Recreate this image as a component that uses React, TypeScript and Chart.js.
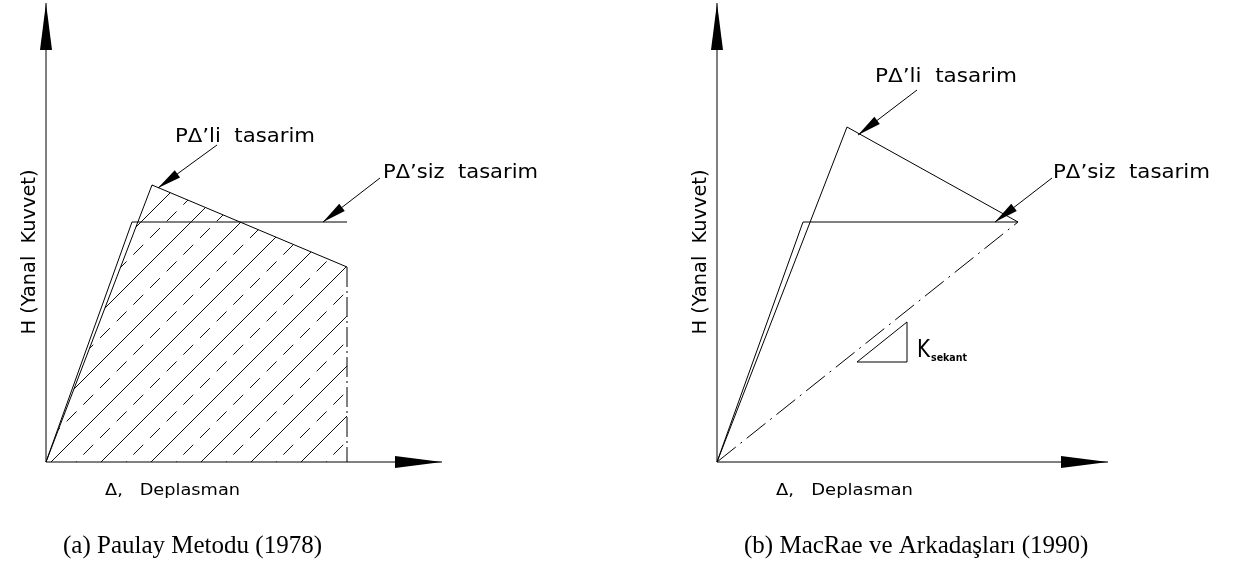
import React, { useEffect, useRef } from "react";
import { Chart, registerables } from "chart.js";

Chart.register(...registerables);

// Schematic units: Δ (displacement) horizontally, H (lateral force) vertically.

// (a) Paulay method (1978)
const paulaySizDelta = [0, 21.5, 75.25];
const paulaySizH = [0, 60, 60];
const paulayLiDelta = [0, 26.5, 75.25];
const paulayLiH = [0, 69.25, 48.75];
const paulayLimitDelta = [75.25, 75.25];
const paulayLimitH = [48.75, 0];
const paulayAxisDeltaEnd = 99;
const paulayAxisHEnd = 114.75;
const paulayLiLeaderDelta = [42.75, 28];
const paulayLiLeaderH = [79.25, 68.5];
const paulaySizLeaderDelta = [83.5, 69.25];
const paulaySizLeaderH = [71, 60];

// (b) MacRae et al. (1990)
const macraeLiDelta = [0, 32.5, 75.25];
const macraeLiH = [0, 83.75, 60];
const macraeSizDelta = [0, 21.5, 75.25];
const macraeSizH = [0, 60, 60];
const macraeSecantDelta = [0, 75.25];
const macraeSecantH = [0, 60];
const stiffnessTriDelta = [35, 47.5, 47.5, 35];
const stiffnessTriH = [25, 25, 35, 25];
const macraeAxisDeltaEnd = 97.75;
const macraeAxisHEnd = 114.75;
const macraeLiLeaderDelta = [50, 35.25];
const macraeLiLeaderH = [93, 81.75];
const macraeSizLeaderDelta = [83.75, 69.5];
const macraeSizLeaderH = [71, 60];

// Texts
const LABEL_LI = "P\u0394\u2019li  tasarim";
const LABEL_SIZ = "P\u0394\u2019siz  tasarim";
const LABEL_Y = "H (Yanal  Kuvvet)";
const LABEL_X = "\u0394,   Deplasman";
const CAPTION_A = "(a) Paulay Metodu (1978)";
const CAPTION_B = "(b) MacRae ve Arkada\u015Flar\u0131 (1990)";

const CAD_FONT = '"DejaVu Sans", "Noto Sans", sans-serif';
const SERIF_FONT = '"Liberation Serif", "Times New Roman", serif';

const pts = (xs: number[], ys: number[]) => xs.map((x, i) => ({ x, y: ys[i] }));

const line = (xs: number[], ys: number[], extra: any = {}) => ({
  data: pts(xs, ys),
  showLine: true,
  pointRadius: 0,
  borderColor: "#000",
  borderWidth: 1,
  backgroundColor: "transparent",
  fill: false,
  tension: 0,
  clip: false,
  ...extra,
});

const AXIS_HEAD = { len: 47, half: 6 };
const LEADER_HEAD = { len: 24, half: 4.5 };

// Draws arrowheads at the end of flagged datasets plus the text notes
const notesPlugin = {
  id: "notes",
  afterDatasetsDraw(chart: any, _args: any, opts: any) {
    const { ctx } = chart;
    const sx = chart.scales.x;
    const sy = chart.scales.y;
    ctx.save();
    chart.data.datasets.forEach((ds: any) => {
      if (!ds.arrowHead) return;
      const d = ds.data;
      const n = d.length;
      const x1 = sx.getPixelForValue(d[n - 2].x);
      const y1 = sy.getPixelForValue(d[n - 2].y);
      const x2 = sx.getPixelForValue(d[n - 1].x);
      const y2 = sy.getPixelForValue(d[n - 1].y);
      const ang = Math.atan2(y2 - y1, x2 - x1);
      ctx.save();
      ctx.translate(x2, y2);
      ctx.rotate(ang);
      ctx.beginPath();
      ctx.moveTo(0, 0);
      ctx.lineTo(-ds.arrowHead.len, -ds.arrowHead.half);
      ctx.lineTo(-ds.arrowHead.len, ds.arrowHead.half);
      ctx.closePath();
      ctx.fillStyle = "#000";
      ctx.fill();
      ctx.restore();
    });
    (opts.labels || []).forEach((l: any) => {
      const px = sx.getPixelForValue(l.delta);
      const py = sy.getPixelForValue(l.h);
      ctx.save();
      ctx.font = l.font;
      ctx.fillStyle = "#000";
      ctx.textBaseline = l.rotate ? "middle" : "alphabetic";
      ctx.textAlign = l.rotate ? "center" : "left";
      const w = ctx.measureText(l.text).width;
      ctx.translate(px, py);
      if (l.rotate) ctx.rotate(-Math.PI / 2);
      const k = l.width ? l.width / w : 1;
      ctx.scale(k, 1);
      ctx.fillText(l.text, 0, 0);
      ctx.restore();
    });
    ctx.restore();
  },
};

function makeHatch(ctx: CanvasRenderingContext2D) {
  const tile = document.createElement("canvas");
  tile.width = 50;
  tile.height = 50;
  const g = tile.getContext("2d")!;
  g.strokeStyle = "#111";
  g.lineWidth = 1;
  const period = (50 * Math.SQRT2) / 3;
  [13, 38, 63, 88].forEach((c, i) => {
    const dashed = i % 2 === 1;
    const xs = c - 54;
    g.setLineDash(dashed ? [14, period - 14] : []);
    g.lineDashOffset = dashed ? (((xs * Math.SQRT2) % period) + period) % period : 0;
    g.beginPath();
    g.moveTo(xs, 54);
    g.lineTo(c + 4, -4);
    g.stroke();
  });
  return ctx.createPattern(tile, "repeat");
}

const baseOptions = (padding: any, xMax: number, labels: any[]) => ({
  animation: false,
  responsive: false,
  maintainAspectRatio: false,
  events: [],
  layout: { padding },
  plugins: {
    legend: { display: false },
    tooltip: { enabled: false },
    title: { display: false },
    notes: { labels },
  },
  scales: {
    x: { type: "linear", min: 0, max: xMax, display: false },
    y: { type: "linear", min: 0, max: 115, display: false },
  },
});

const cadLabels = (leftLi: number, hLi: number, wLi: number, leftSiz: number, wSiz: number, wX: number) => [
  { text: LABEL_LI, delta: leftLi, h: hLi, width: wLi, font: `19px ${CAD_FONT}` },
  { text: LABEL_SIZ, delta: leftSiz, h: 71, width: wSiz, font: `19px ${CAD_FONT}` },
  { text: LABEL_Y, delta: -4, h: 52.5, width: 165, font: `19px ${CAD_FONT}`, rotate: true },
  { text: LABEL_X, delta: 14.75, h: -8.25, width: wX, font: `16px ${CAD_FONT}` },
];

export default function App() {
  const refA = useRef<HTMLCanvasElement>(null);
  const refB = useRef<HTMLCanvasElement>(null);

  useEffect(() => {
    const ctxA = refA.current!.getContext("2d")!;
    const hatch = makeHatch(ctxA);

    const chartA = new Chart(refA.current!, {
      type: "scatter",
      data: {
        datasets: [
          line([0, 0], [0, paulayAxisHEnd], { arrowHead: AXIS_HEAD }),
          line([0, paulayAxisDeltaEnd], [0, 0], { arrowHead: AXIS_HEAD }),
          line(paulayLiDelta, paulayLiH, { fill: "origin", backgroundColor: hatch }),
          line(paulaySizDelta, paulaySizH),
          line(paulayLimitDelta, paulayLimitH, { borderDash: [20, 4, 2, 4] }),
          line(paulayLiLeaderDelta, paulayLiLeaderH, { arrowHead: LEADER_HEAD }),
          line(paulaySizLeaderDelta, paulaySizLeaderH, { arrowHead: LEADER_HEAD }),
        ] as any,
      },
      options: baseOptions({ left: 46, right: 12, top: 2, bottom: 102 }, 140, [
        ...cadLabels(32.25, 80, 140, 84.25, 155, 135),
        { text: CAPTION_A, delta: 4.25, h: -22.75, font: `25px ${SERIF_FONT}` },
      ]) as any,
      plugins: [notesPlugin],
    });

    const chartB = new Chart(refB.current!, {
      type: "scatter",
      data: {
        datasets: [
          line([0, 0], [0, macraeAxisHEnd], { arrowHead: AXIS_HEAD }),
          line([0, macraeAxisDeltaEnd], [0, 0], { arrowHead: AXIS_HEAD }),
          line(macraeLiDelta, macraeLiH),
          line(macraeSizDelta, macraeSizH),
          line(macraeSecantDelta, macraeSecantH, { borderDash: [24, 6, 2, 6] }),
          line(stiffnessTriDelta, stiffnessTriH),
          line(macraeLiLeaderDelta, macraeLiLeaderH, { arrowHead: LEADER_HEAD }),
          line(macraeSizLeaderDelta, macraeSizLeaderH, { arrowHead: LEADER_HEAD }),
        ] as any,
      },
      options: baseOptions({ left: 99, right: 8, top: 2, bottom: 102 }, 128, [
        ...cadLabels(39.5, 95, 142, 84, 157, 137),
        { text: "K", delta: 50, h: 26.25, width: 13, font: `24px ${CAD_FONT}` },
        { text: "sekant", delta: 53.5, h: 25.25, width: 36, font: `bold 10px ${CAD_FONT}` },
        { text: CAPTION_B, delta: 6.75, h: -22.75, font: `25px ${SERIF_FONT}` },
      ]) as any,
      plugins: [notesPlugin],
    });

    return () => {
      chartA.destroy();
      chartB.destroy();
    };
  }, []);

  return (
    <div style={{ position: "fixed", left: 0, top: 0, width: 1237, height: 564, background: "#fff" }}>
      <canvas ref={refA} width={618} height={564} style={{ position: "absolute", left: 0, top: 0 }} />
      <canvas ref={refB} width={619} height={564} style={{ position: "absolute", left: 618, top: 0 }} />
    </div>
  );
}
